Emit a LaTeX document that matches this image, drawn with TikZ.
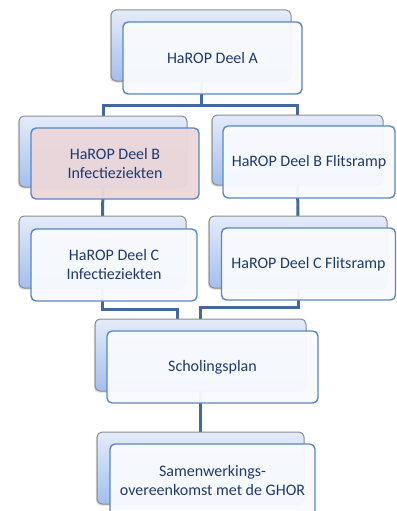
\documentclass[tikz,border=0pt]{standalone}
\usepackage{fontspec}
\setmainfont{Carlito}
\usetikzlibrary{backgrounds,shadows,calc}
\definecolor{txtc}{HTML}{1F3A6C}
\definecolor{linec}{HTML}{41699E}
\definecolor{frontb}{HTML}{5A86C2}
\definecolor{frontf}{HTML}{F8FAFE}
\definecolor{pinkf}{HTML}{EBD7DA}
\definecolor{backtop}{HTML}{E4ECFA}
\definecolor{backbot}{HTML}{A3BFEF}
\definecolor{backb}{HTML}{8C8C8C}
\tikzset{
  backbox/.style={draw=backb, line width=1pt, rounded corners=5pt, inner sep=0pt,
    top color=backtop, bottom color=backbot,
    drop shadow={shadow xshift=-1.2pt, shadow yshift=-1.5pt, opacity=0.3}},
  frontbox/.style={draw=frontb, line width=1.4pt, rounded corners=5pt, inner sep=0pt,
    fill=frontf, fill opacity=0.96, text opacity=1, text=txtc, align=center,
    font=\fontsize{16}{19}\selectfont},
  conn/.style={draw=linec, line width=3pt}
}
\begin{document}
\begin{tikzpicture}[x=1pt,y=-1pt]
\useasboundingbox (0,0) rectangle (396,511);
% back boxes
\node[backbox, minimum width=180pt, minimum height=71pt] (Ab) at (201,45.5) {};
\node[backbox, minimum width=168pt, minimum height=71pt] (Blb) at (103,151.5) {};
\node[backbox, minimum width=171pt, minimum height=70pt] (Brb) at (297.5,150) {};
\node[backbox, minimum width=167pt, minimum height=72pt] (Clb) at (102.5,252) {};
\node[backbox, minimum width=178pt, minimum height=72pt] (Crb) at (298,252) {};
\node[backbox, minimum width=211pt, minimum height=72pt] (Sb) at (200.5,355) {};
\node[backbox, minimum width=207pt, minimum height=72pt] (Gb) at (200.5,468) {};
% front boxes
\node[frontbox, minimum width=179pt, minimum height=72pt] (A) at (212.5,58) {HaROP Deel A};
\node[frontbox, fill=pinkf, minimum width=168pt, minimum height=71pt] (Bl) at (115,163.5) {HaROP Deel B\\Infectieziekten};
\node[frontbox, minimum width=172pt, minimum height=72pt] (Br) at (309,162) {HaROP Deel B Flitsramp};
\node[frontbox, minimum width=166pt, minimum height=72pt] (Cl) at (114,265) {HaROP Deel C\\Infectieziekten};
\node[frontbox, minimum width=174pt, minimum height=72pt] (Cr) at (308.5,264) {HaROP Deel C Flitsramp};
\node[frontbox, minimum width=211pt, minimum height=72pt] (S) at (212.5,367) {Scholingsplan};
\node[frontbox, minimum width=205pt, minimum height=72pt] (G) at (212.5,480) {Samenwerkings-\\overeenkomst met de GHOR};
% connectors
\begin{pgfonlayer}{background}
\draw[conn] (Ab.center) -- ([yshift=-24pt]Ab.south) -| (Blb.center);
\draw[conn] ([yshift=-24pt]Ab.south) -| (Brb.center);
\draw[conn] (Blb.center) -- (Clb.center);
\draw[conn] (Brb.center) -- (Crb.center);
\draw[conn] (Clb.center) -- ([yshift=-21pt]Clb.south) -| ([xshift=-23pt]Sb.center);
\draw[conn] (Crb.center) |- ([yshift=11pt]Sb.north) -- (Sb.center);
\draw[conn] (Sb.center) -- (Gb.center);
\end{pgfonlayer}
\end{tikzpicture}
\end{document}
